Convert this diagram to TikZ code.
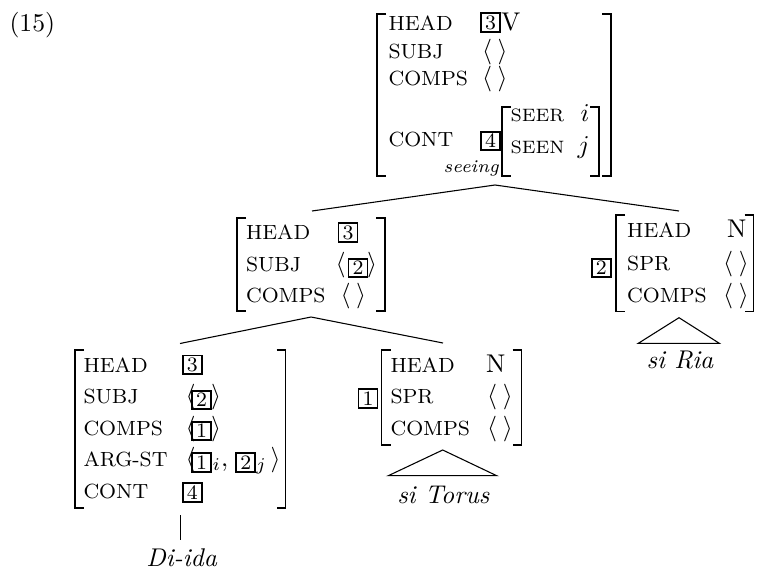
\documentclass[tikz,border=0pt]{standalone}
\usepackage{amsmath}
\tikzset{
  x={(0.39pt,0)}, y={(0,-0.39pt)},
  lbl/.style={anchor=base west, inner sep=0pt, font=\footnotesize},
  sublbl/.style={anchor=base west, inner sep=0pt, font=\scriptsize},
  val/.style={anchor=base west, inner sep=0pt},
  tagb/.style={draw, line width=0.75pt, inner sep=0pt, minimum width=7.4pt,
    minimum height=7.2pt, font=\footnotesize},
  brk/.style={line width=0.42pt},
  edge/.style={line width=0.42pt},
}
% square brackets of an attribute-value matrix: x, top, bottom
\newcommand\avmL[3]{\draw[brk] ({#1+9},#2) -- (#1,#2) -- (#1,#3) -- ({#1+9},#3);}
\newcommand\avmR[3]{\draw[brk] ({#1-9},#2) -- (#1,#2) -- (#1,#3) -- ({#1-9},#3);}
\newcommand\emptylist{$\langle\:\rangle$}
\begin{document}
\begin{tikzpicture}
\useasboundingbox (0,0) rectangle (759,569);

\node[val] (num) at (9,31.5) {(15)};

% ---- S: top matrix
\avmL{377}{14}{176}
\avmR{611}{14}{176}
\node[lbl] (sh) at (388,31) {HEAD};
\node[tagb] (st3) at (490.5,22.5) {3};
\node[val] (sv) at (500.5,31) {V};
\node[lbl] (ss) at (388,58.3) {SUBJ};
\node[val] (ssv) at (481.5,58.3) {\emptylist};
\node[lbl] (sc) at (388,86) {COMPS};
\node[val] (scv) at (481.5,86) {\emptylist};
\node[lbl] (sco) at (388,146) {CONT};
\node[tagb] (st4) at (490.5,141) {4};
\avmL{502}{107}{176}
\avmR{599}{107}{176}
\node[sublbl] (seer) at (510,121.5) {SEER};
\node[val] (seeri) at (580,121.5) {$i$};
\node[sublbl] (seen) at (510,153) {SEEN};
\node[val] (seenj) at (577,153) {$j$};
\node[anchor=base east, inner sep=0pt, font=\scriptsize\itshape] (seeing) at (499.5,172) {seeing};

% ---- VP matrix
\avmL{237}{218}{311}
\avmR{385}{218}{311}
\node[lbl] (vh) at (245.5,239) {HEAD};
\node[tagb] (vt3) at (348,232.5) {3};
\node[lbl] (vs) at (245.5,271.5) {SUBJ};
\node[val] (vsa) at (335,271.5) {$\langle$};
\node[tagb] (vt2) at (358,268) {2};
\node[val] (vsb) at (366.5,271.5) {$\rangle$};
\node[lbl] (vc) at (245.5,302) {COMPS};
\node[val] (vcv) at (340,302) {\emptylist};

% ---- NP "si Ria"
\node[tagb] (rt2) at (601.3,268) {2};
\avmL{616}{215}{311.5}
\avmR{753.5}{215}{311.5}
\node[lbl] (rh) at (626.7,237.3) {HEAD};
\node[val] (rn) at (726.7,237.3) {N};
\node[lbl] (rs) at (626.7,270.5) {SPR};
\node[val] (rsv) at (722.7,270.5) {\emptylist};
\node[lbl] (rc) at (626.7,302) {COMPS};
\node[val] (rcv) at (722.7,302) {\emptylist};
\node[anchor=base, inner sep=0pt, font=\itshape] (ria) at (680,368) {si Ria};

% ---- V matrix
\avmL{75}{350}{508}
\avmR{285.7}{350}{508}
\node[lbl] (lh) at (83,372) {HEAD};
\node[tagb] (lt3) at (192.3,364.7) {3};
\node[lbl] (ls) at (83,403.5) {SUBJ};
\node[val] (lsa) at (185,403.5) {$\langle$};
\node[tagb] (lt2) at (201.5,400) {2};
\node[val] (lsb) at (210.5,403.5) {$\rangle$};
\node[lbl] (lc) at (83,435) {COMPS};
\node[val] (lca) at (185,435) {$\langle$};
\node[tagb] (lt1) at (201.5,431) {1};
\node[val] (lcb) at (210.5,435) {$\rangle$};
\node[lbl] (la) at (83,466.5) {ARG-ST};
\node[val] (laa) at (185,466.5) {$\langle$};
\node[tagb] (la1) at (201.5,462.5) {1};
\node[val] (lai) at (212,466.5) {$_i,$};
\node[tagb] (la2) at (245.7,462.5) {2};
\node[val] (laj) at (255.5,466.5) {$_j$};
\node[val] (lab) at (270,466.5) {$\rangle$};
\node[lbl] (lco) at (83,498) {CONT};
\node[tagb] (lt4) at (192.2,492.3) {4};
\node[anchor=base, inner sep=0pt, font=\itshape] (diida) at (181.7,566) {Di-ida};

% ---- NP "si Torus"
\node[tagb] (tt1) at (368,398.3) {1};
\avmL{381.7}{350}{445}
\avmR{521.7}{350}{445}
\node[lbl] (th) at (390,372.3) {HEAD};
\node[val] (tn) at (485.7,372.3) {N};
\node[lbl] (ts) at (390,403.3) {SPR};
\node[val] (tsv) at (486.7,403.3) {\emptylist};
\node[lbl] (tc) at (390,435) {COMPS};
\node[val] (tcv) at (486.7,435) {\emptylist};
\node[anchor=base, inner sep=0pt, font=\itshape] (torus) at (443.3,503) {si Torus};

% ---- branches
\coordinate (sroot) at (495,185);
\coordinate (vptop) at (312,211);
\coordinate (riatop) at (679,211);
\coordinate (vproot) at (311,317);
\coordinate (vtop) at (180,343.5);
\coordinate (torustop) at (443,343);
\coordinate (vbot) at (180.5,515);
\coordinate (vleaf) at (180.5,540);
\draw[edge] (vptop) -- (sroot) -- (riatop);
\draw[edge] (vtop) -- (vproot) -- (torustop);
\draw[edge] (vbot) -- (vleaf);

% roof triangles
\coordinate (ra) at (679,317.7);
\coordinate (rl) at (638.3,343.3);
\coordinate (rr) at (719.3,343.3);
\draw[edge] (rl) -- (ra) -- (rr) -- cycle;
\coordinate (ta) at (442.7,450);
\coordinate (tl) at (388.3,475.7);
\coordinate (tr) at (496.7,475.7);
\draw[edge] (tl) -- (ta) -- (tr) -- cycle;
\end{tikzpicture}
\end{document}
